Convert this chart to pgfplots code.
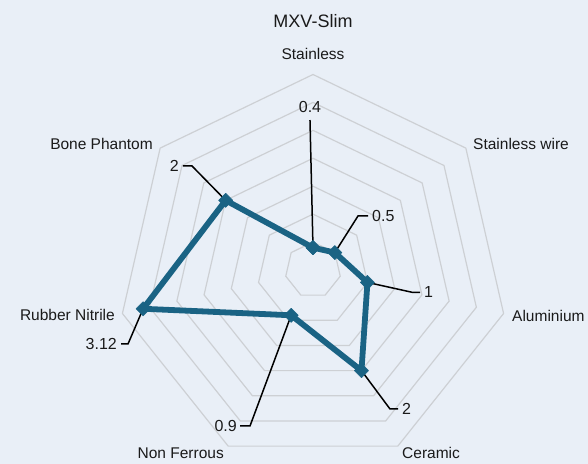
\documentclass[border=0pt]{standalone}
\usepackage{fontspec}
\setmainfont{Liberation Sans}
\usepackage{pgfplots}
\pgfplotsset{compat=1.18}
\definecolor{bg}{HTML}{E9EFF7}
\definecolor{gridc}{HTML}{CDD0D4}
\definecolor{series}{HTML}{1A6384}
\definecolor{txt}{HTML}{1A1A1A}
\tikzset{
  catlab/.style={font=\fontsize{15.5}{18}\selectfont, inner sep=0pt, text=txt},
  datlab/.style={font=\fontsize{16}{18}\selectfont, inner sep=0pt, text=txt},
  leader/.style={black, line width=1.5pt},
}
\begin{document}
\begin{tikzpicture}
\begin{axis}[
  x=55.857pt, y=55.857pt,
  xmin=-5.6036, xmax=4.9233, ymin=-3.4731, ymax=4.8337,
  axis lines=none, ticks=none,
  axis background/.style={fill=bg},
  clip=false,
]
\path (rel axis cs:0,0) rectangle (rel axis cs:1,1);
% grid heptagons (0.5 ... 3.5)
\pgfplotsinvokeforeach{0.5,1,1.5,2,2.5,3,3.5}{
  \addplot[data cs=polar, gridc, line width=1.2pt, mark=none]
    coordinates {(90,#1) (38.571,#1) (-12.857,#1) (-64.286,#1) (-115.714,#1) (-167.143,#1) (-218.571,#1) (90,#1)};
}
% leader lines
\draw[leader] (axis cs:0,0.4) -- (axis cs:-0.054,2.685);
\draw[leader] (axis cs:0.3909,0.3117) -- (axis cs:0.8056,0.9667) -- (axis cs:0.9847,0.9667);
\draw[leader] (axis cs:0.9749,-0.2225) -- (axis cs:1.790,-0.4028) -- (axis cs:1.9156,-0.4028);
\draw[leader] (axis cs:0.8678,-1.8019) -- (axis cs:1.3785,-2.4885) -- (axis cs:1.5217,-2.4885);
\draw[leader] (axis cs:-0.3905,-0.8109) -- (axis cs:-1.1279,-2.7929) -- (axis cs:-1.3069,-2.7929);
\draw[leader] (axis cs:-3.0417,-0.6942) -- (axis cs:-3.3120,-1.3248) -- (axis cs:-3.4373,-1.3248);
\draw[leader] (axis cs:-1.5637,1.2470) -- (axis cs:-2.1662,1.8619) -- (axis cs:-2.3274,1.8619);
% data series
\addplot[data cs=polar, series, line width=5.8pt, line join=round,
  mark=square*, mark size=5pt, mark options={rotate=45, fill=series, draw=series, line width=0.5pt}]
  coordinates {(90,0.4) (38.571,0.5) (-12.857,1) (-64.286,2) (-115.714,0.9) (-167.143,3.12) (-218.571,2) (90,0.4)};
% data labels
\node[datlab] at (axis cs:-0.054,2.918) {0.4};
\node[datlab, anchor=west] at (axis cs:1.0563,0.9667) {0.5};
\node[datlab, anchor=west] at (axis cs:1.987,-0.4028) {1};
\node[datlab, anchor=west] at (axis cs:1.5934,-2.4885) {2};
\node[datlab, anchor=east] at (axis cs:-1.3606,-2.7929) {0.9};
\node[datlab, anchor=east] at (axis cs:-3.5089,-1.3248) {3.12};
\node[datlab, anchor=east] at (axis cs:-2.399,1.8619) {2};
% category labels
\node[font=\fontsize{18}{20}\selectfont, inner sep=0pt, text=txt] at (axis cs:0,4.449) {MXV-Slim};
\node[catlab] at (axis cs:0,3.867) {Stainless};
\node[catlab, anchor=west] at (axis cs:2.8645,2.2647) {Stainless wire};
\node[catlab, anchor=west] at (axis cs:3.5627,-0.8235) {Aluminium};
\node[catlab, anchor=west] at (axis cs:1.5934,-3.2763) {Ceramic};
\node[catlab, anchor=east] at (axis cs:-1.5934,-3.2763) {Non Ferrous};
\node[catlab, anchor=east] at (axis cs:-3.5448,-0.8056) {Rubber Nitrile};
\node[catlab, anchor=east] at (axis cs:-2.8645,2.2647) {Bone Phantom};
\end{axis}
\end{tikzpicture}
\end{document}
